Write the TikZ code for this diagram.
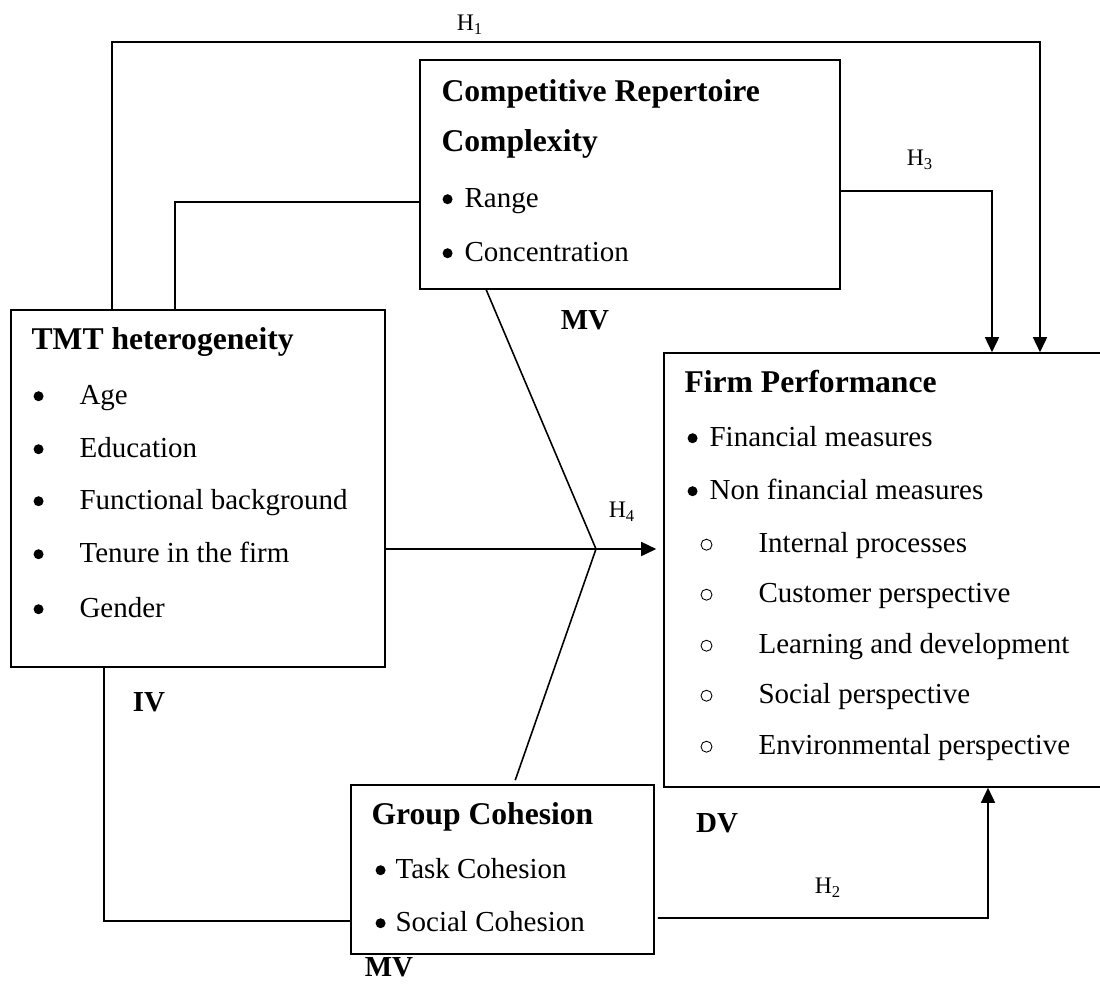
\documentclass[tikz,border=0pt]{standalone}
\usepackage{fontspec}
\setmainfont{Liberation Serif}
\usetikzlibrary{arrows.meta,calc}

\newcommand{\itemfont}{\fontsize{16.5}{19}\selectfont}
\newcommand{\headfont}{\fontsize{18}{21}\selectfont\bfseries}
\newcommand{\hypfont}{\fontsize{13.5}{16}\selectfont}
% bullet marks drawn as small circles
\newcommand{\blt}{\tikz[baseline={(0,-0.16)}]\fill (0,0) circle (0.1cm);}
\newcommand{\ring}{\tikz[baseline={(0,-0.15)}]\draw[line width=0.5pt] (0,0) circle (0.11cm);}
\newcommand{\bul}{\makebox[0.44cm][l]{\blt}}
\newcommand{\sub}{\makebox[1.16cm][l]{\ring}}

\tikzset{
	box/.style={draw, line width=0.9pt, inner sep=0pt},
	head/.style={anchor=base west, inner sep=0pt, font=\headfont},
	txt/.style={anchor=base west, inner sep=0pt, font=\itemfont},
	var/.style={anchor=base, inner sep=0pt, font=\headfont\fontsize{16.5}{19}\selectfont},
	hyp/.style={inner sep=0pt, font=\hypfont},
	link/.style={line width=0.9pt},
	arr/.style={line width=0.9pt, -{Triangle[width=0.28cm,length=0.3cm]}}
}

\begin{document}
\begin{tikzpicture}
		\useasboundingbox (0,0) rectangle (22,-19.68);
		\node[box, minimum width=7.48cm, minimum height=7.14cm] (tmt) at (3.96,-9.77) {};
		\node[box, minimum width=8.4cm, minimum height=4.58cm] (crc) at (12.6,-3.49) {};
		\node[box, minimum width=8.96cm, minimum height=8.68cm] (fp) at (17.76,-11.4) {};
		\node[box, minimum width=6.06cm, minimum height=3.38cm] (gc) at (10.05,-17.39) {};
%		
		\node[head] (tmtT) at ($(tmt.north west)+(0.42,-0.8)$) {TMT heterogeneity};
		\node[txt] (tmt1) at ($(tmt.north west)+(0.46,-1.9)$) {\makebox[0.92cm][l]{\blt}Age};
		\node[txt] (tmt2) at ($(tmt.north west)+(0.46,-2.96)$) {\makebox[0.92cm][l]{\blt}Education};
		\node[txt] (tmt3) at ($(tmt.north west)+(0.46,-4.0)$) {\makebox[0.92cm][l]{\blt}Functional background};
		\node[txt] (tmt4) at ($(tmt.north west)+(0.46,-5.06)$) {\makebox[0.92cm][l]{\blt}Tenure in the firm};
		\node[txt] (tmt5) at ($(tmt.north west)+(0.46,-6.16)$) {\makebox[0.92cm][l]{\blt}Gender};
%
		\node[head] (crcT1) at ($(crc.north west)+(0.44,-0.84)$) {Competitive Repertoire};
		\node[head] (crcT2) at ($(crc.north west)+(0.44,-1.84)$) {Complexity};
		\node[txt] (crc1) at ($(crc.north west)+(0.46,-2.96)$) {\bul Range};
		\node[txt] (crc2) at ($(crc.north west)+(0.46,-4.04)$) {\bul Concentration};
%
		\node[head] (fpT) at ($(fp.north west)+(0.42,-0.8)$) {Firm Performance};
		\node[txt] (fp1) at ($(fp.north west)+(0.48,-1.88)$) {\bul Financial measures};
		\node[txt] (fp2) at ($(fp.north west)+(0.48,-2.94)$) {\bul Non financial measures};
		\node[txt] (fp3) at ($(fp.north west)+(0.74,-4.0)$) {\sub Internal processes};
		\node[txt] (fp4) at ($(fp.north west)+(0.74,-5.0)$) {\sub Customer perspective};
		\node[txt] (fp5) at ($(fp.north west)+(0.74,-6.02)$) {\sub Learning and development};
		\node[txt] (fp6) at ($(fp.north west)+(0.74,-7.02)$) {\sub Social perspective};
		\node[txt] (fp7) at ($(fp.north west)+(0.74,-8.04)$) {\sub Environmental perspective};
%
		\node[head] (gcT) at ($(gc.north west)+(0.42,-0.8)$) {Group Cohesion};
		\node[txt] (gc1) at ($(gc.north west)+(0.5,-1.88)$) {\makebox[0.4cm][l]{\blt}Task Cohesion};
		\node[txt] (gc2) at ($(gc.north west)+(0.5,-2.94)$) {\makebox[0.4cm][l]{\blt}Social Cohesion};
%
		\node[var] (mvA) at (11.7,-6.58) {MV};
		\node[var] (iv) at (2.98,-14.22) {IV};
		\node[var] (dv) at (14.34,-16.64) {DV};
		\node[var] (mvB) at (7.78,-19.52) {MV};
%
		\coordinate (h1) at (20.8,-0.84);
		\coordinate (h3) at (19.84,-3.82);
		\coordinate (h2) at (19.76,-18.36);
		\coordinate (jn) at (11.92,-10.98);
%
		\draw[arr] ($(tmt.north west)+(2.04,0)$) |- (h1) -- (h1 |- fp.north);
		\draw[link] ($(tmt.north west)+(3.3,0)$) |- ($(crc.west)+(0,-0.55)$);
		\draw[arr] ($(crc.east)+(0,-0.33)$) -- (h3) -- (h3 |- fp.north);
		\draw[link] (tmt.east |- jn) -- (jn);
		\draw[arr] (jn) -- ($(jn -| fp.west)+(-0.14,0)$);
		\draw[link] ($(crc.south west)+(1.34,0)$) -- (jn) -- ($(gc.north west)+(3.3,0.08)$);
		\draw[link] ($(tmt.south west)+(1.88,0)$) |- ($(gc.west)+(0,-1.03)$);
		\draw[arr] ($(gc.east)+(0.06,-0.97)$) -- (h2) -- (h2 |- fp.south);
%
		\node[hyp] (H1) at (9.4,-0.5) {H\textsubscript{1}};
		\node[hyp] (H3) at (18.4,-3.2) {H\textsubscript{3}};
		\node[hyp] (H4) at (12.44,-10.24) {H\textsubscript{4}};
		\node[hyp] (H2) at (16.56,-17.76) {H\textsubscript{2}};
	\end{tikzpicture}
\end{document}
